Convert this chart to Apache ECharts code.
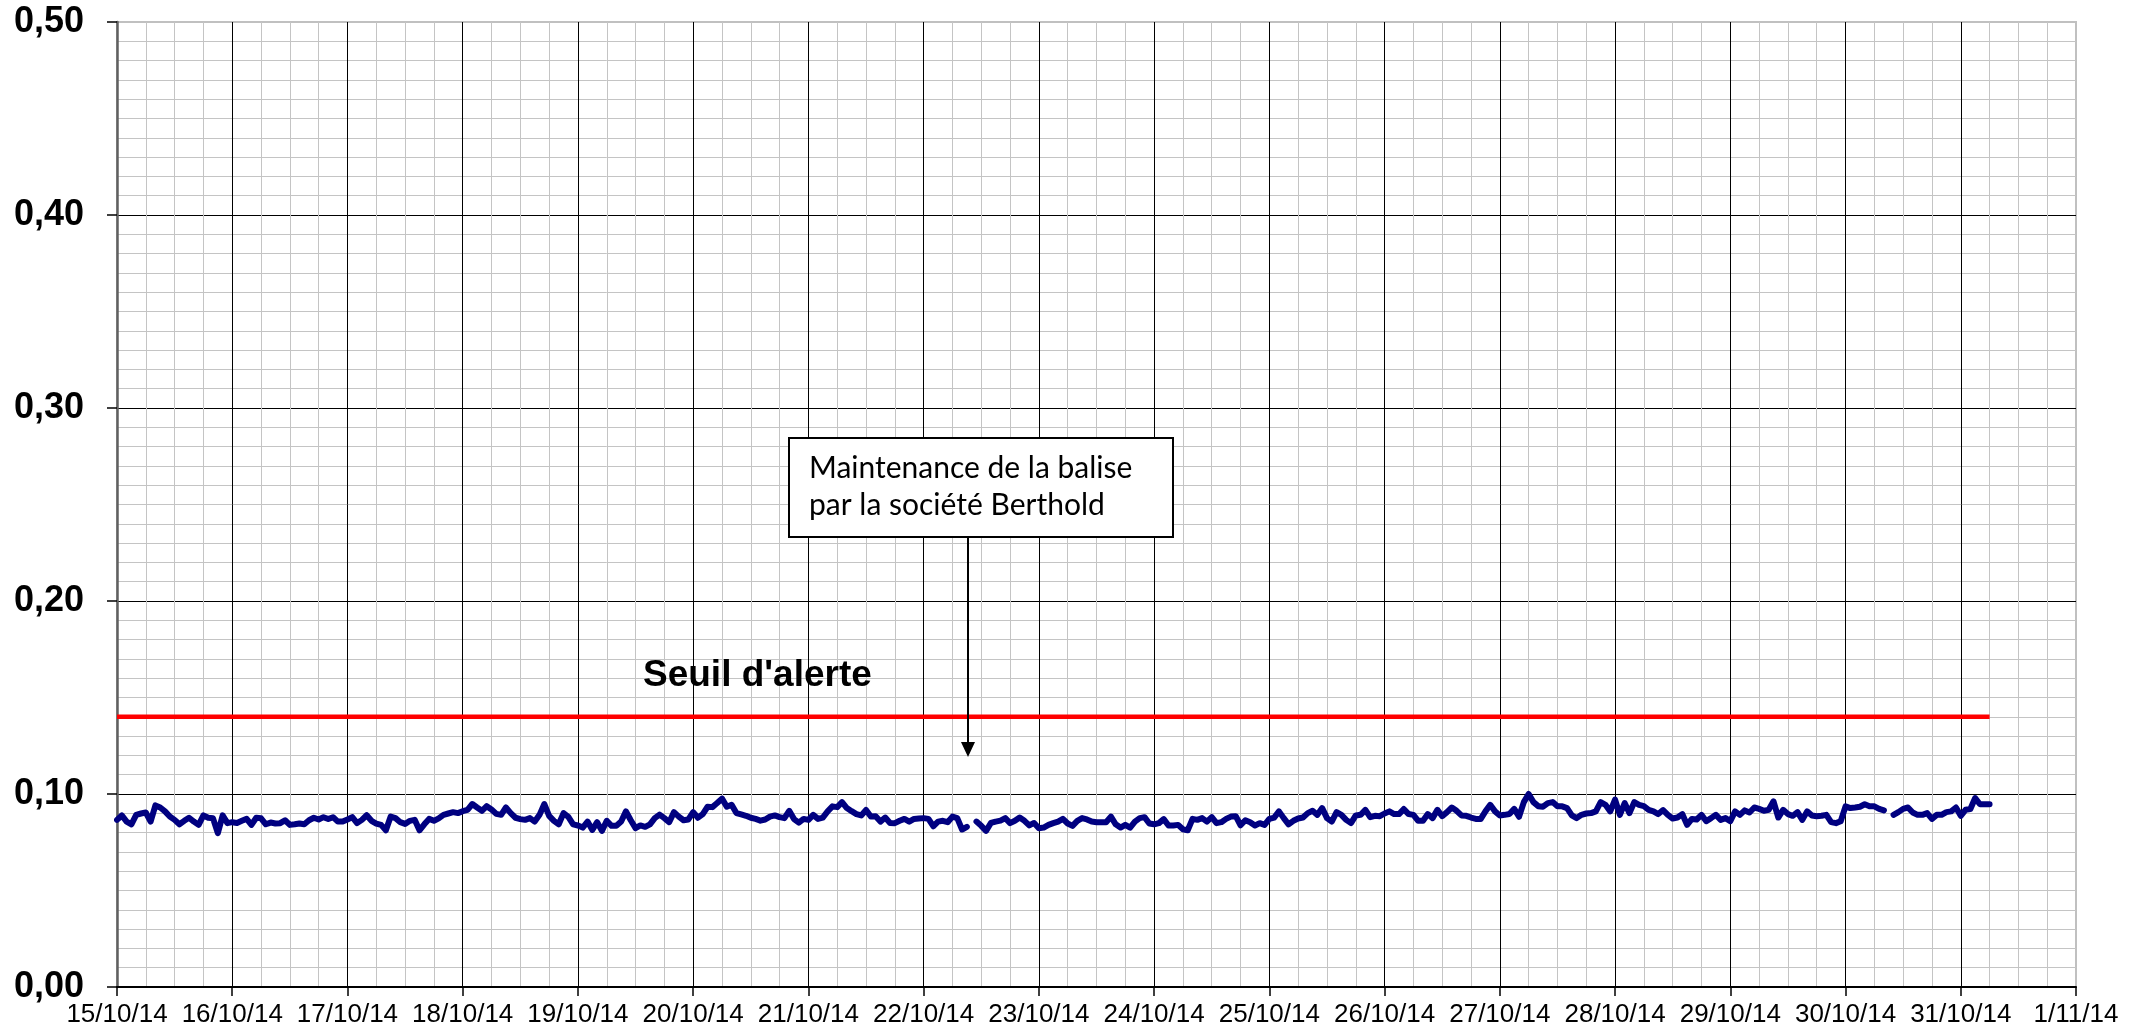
<!DOCTYPE html>
<html>
<head>
<meta charset="utf-8">
<title>Balise - octobre 2014</title>
<script src="https://cdn.jsdelivr.net/npm/echarts@6/dist/echarts.min.js"></script>
<style>
html, body { margin: 0; padding: 0; background: #fff; }
#chart { width: 2145px; height: 1033px; }
</style>
</head>
<body>
<div id="chart"></div>
<script>
// axis range
var startDate = Date.UTC(2014, 9, 15);
var endDate = Date.UTC(2014, 10, 1);
var HOUR = 3600 * 1000;
var DAY = 24 * HOUR;
var yMin = 0, yMax = 0.5, yStep = 0.1;

// hourly readings, one array per day from 00:00 (null = no measurement)
var oct15 = [0.0866, 0.0889, 0.0857, 0.0843, 0.0892, 0.0899, 0.0904, 0.0857, 0.0941, 0.0930, 0.0910, 0.0883, 0.0866, 0.0843, 0.0861, 0.0877, 0.0857, 0.0840, 0.0889, 0.0877, 0.0874, 0.0797, 0.0889, 0.0849];
var oct16 = [0.0854, 0.0850, 0.0861, 0.0871, 0.0840, 0.0877, 0.0874, 0.0843, 0.0852, 0.0847, 0.0849, 0.0864, 0.0840, 0.0843, 0.0847, 0.0843, 0.0864, 0.0877, 0.0868, 0.0880, 0.0870, 0.0880, 0.0857, 0.0857];
var oct17 = [0.0868, 0.0880, 0.0849, 0.0866, 0.0890, 0.0861, 0.0847, 0.0840, 0.0812, 0.0883, 0.0875, 0.0854, 0.0845, 0.0861, 0.0866, 0.0812, 0.0843, 0.0871, 0.0861, 0.0874, 0.0892, 0.0899, 0.0906, 0.0901];
var oct18 = [0.0911, 0.0918, 0.0948, 0.0930, 0.0913, 0.0937, 0.0920, 0.0897, 0.0892, 0.0930, 0.0901, 0.0877, 0.0870, 0.0866, 0.0875, 0.0857, 0.0892, 0.0948, 0.0887, 0.0861, 0.0843, 0.0901, 0.0882, 0.0843];
var oct19 = [0.0837, 0.0826, 0.0857, 0.0814, 0.0854, 0.0809, 0.0861, 0.0835, 0.0835, 0.0857, 0.0910, 0.0864, 0.0823, 0.0837, 0.0830, 0.0843, 0.0875, 0.0893, 0.0875, 0.0854, 0.0906, 0.0883, 0.0864, 0.0868];
var oct20 = [0.0906, 0.0877, 0.0896, 0.0934, 0.0932, 0.0953, 0.0976, 0.0934, 0.0944, 0.0901, 0.0894, 0.0887, 0.0877, 0.0871, 0.0862, 0.0868, 0.0883, 0.0889, 0.0880, 0.0875, 0.0913, 0.0870, 0.0852, 0.0871];
var oct21 = [0.0866, 0.0892, 0.0871, 0.0878, 0.0910, 0.0936, 0.0932, 0.0958, 0.0927, 0.0911, 0.0896, 0.0889, 0.0917, 0.0883, 0.0885, 0.0857, 0.0878, 0.0850, 0.0849, 0.0861, 0.0871, 0.0857, 0.0871, 0.0873];
var oct22 = [0.0875, 0.0871, 0.0833, 0.0857, 0.0861, 0.0854, 0.0883, 0.0875, 0.0816, 0.0830, null, 0.0857, 0.0835, 0.0809, 0.0850, 0.0857, 0.0862, 0.0875, 0.0849, 0.0861, 0.0878, 0.0861, 0.0837, 0.0850];
var oct23 = [0.0823, 0.0826, 0.0840, 0.0849, 0.0857, 0.0871, 0.0847, 0.0835, 0.0861, 0.0875, 0.0868, 0.0857, 0.0854, 0.0854, 0.0854, 0.0883, 0.0843, 0.0826, 0.0840, 0.0826, 0.0857, 0.0875, 0.0880, 0.0847];
var oct24 = [0.0843, 0.0849, 0.0870, 0.0837, 0.0837, 0.0840, 0.0817, 0.0812, 0.0871, 0.0866, 0.0875, 0.0857, 0.0880, 0.0849, 0.0854, 0.0871, 0.0883, 0.0885, 0.0838, 0.0864, 0.0854, 0.0837, 0.0849, 0.0840];
var oct25 = [0.0871, 0.0878, 0.0910, 0.0875, 0.0843, 0.0861, 0.0873, 0.0878, 0.0901, 0.0913, 0.0892, 0.0927, 0.0875, 0.0857, 0.0906, 0.0892, 0.0866, 0.0849, 0.0889, 0.0892, 0.0918, 0.0880, 0.0887, 0.0885];
var oct26 = [0.0899, 0.0910, 0.0896, 0.0896, 0.0922, 0.0896, 0.0892, 0.0861, 0.0861, 0.0896, 0.0875, 0.0918, 0.0885, 0.0906, 0.0930, 0.0913, 0.0889, 0.0887, 0.0878, 0.0871, 0.0870, 0.0910, 0.0944, 0.0910];
var oct27 = [0.0889, 0.0892, 0.0896, 0.0923, 0.0882, 0.0958, 0.1000, 0.0958, 0.0937, 0.0934, 0.0953, 0.0958, 0.0936, 0.0936, 0.0927, 0.0889, 0.0875, 0.0892, 0.0899, 0.0901, 0.0910, 0.0958, 0.0944, 0.0910];
var oct28 = [0.0971, 0.0892, 0.0953, 0.0901, 0.0958, 0.0944, 0.0937, 0.0918, 0.0910, 0.0896, 0.0917, 0.0892, 0.0873, 0.0878, 0.0896, 0.0840, 0.0871, 0.0868, 0.0892, 0.0859, 0.0875, 0.0892, 0.0866, 0.0875];
var oct29 = [0.0859, 0.0910, 0.0892, 0.0915, 0.0904, 0.0930, 0.0923, 0.0913, 0.0918, 0.0962, 0.0878, 0.0918, 0.0896, 0.0887, 0.0906, 0.0866, 0.0910, 0.0889, 0.0885, 0.0887, 0.0892, 0.0854, 0.0849, 0.0859];
var oct30 = [0.0936, 0.0927, 0.0930, 0.0934, 0.0947, 0.0937, 0.0936, 0.0923, 0.0915, null, 0.0892, 0.0906, 0.0923, 0.0930, 0.0904, 0.0892, 0.0892, 0.0901, 0.0871, 0.0892, 0.0892, 0.0906, 0.0910, 0.0930];
var oct31 = [0.0887, 0.0918, 0.0922, 0.0979, 0.0947, 0.0947, 0.0947];

// alert threshold
var seuilValue = 0.14;
var seuilDates = [Date.UTC(2014, 9, 15), Date.UTC(2014, 9, 31, 6)];

var hourlyValues = [].concat(oct15, oct16, oct17, oct18, oct19, oct20, oct21, oct22,
  oct23, oct24, oct25, oct26, oct27, oct28, oct29, oct30, oct31);

var mesures = hourlyValues.map(function (v, i) {
  return [startDate + i * HOUR, v === null ? '-' : v];
});
var seuil = seuilDates.map(function (d) { return [d, seuilValue]; });

function pad2(n) { return n < 10 ? '0' + n : '' + n; }
function fmtDate(v) {
  var d = new Date(v);
  return d.getUTCDate() + '/' + pad2(d.getUTCMonth() + 1) + '/' + String(d.getUTCFullYear()).slice(2);
}

var chart = echarts.init(document.getElementById('chart'));
var option = {
  animation: false,
  backgroundColor: '#fff',
  grid: {
    left: 117, right: 69, top: 22, bottom: 46,
    outerBoundsMode: 'none',
    show: true, borderColor: '#c0c0c0', borderWidth: 2, backgroundColor: '#fff'
  },
  xAxis: {
    type: 'value',
    min: startDate, max: endDate, interval: DAY,
    axisLine: { onZero: false, lineStyle: { color: '#000', width: 2 } },
    axisTick: { show: true, length: 9, lineStyle: { color: '#000', width: 1.5 } },
    axisLabel: {
      formatter: fmtDate, color: '#000', fontFamily: 'Liberation Sans',
      fontSize: 26, margin: 15, showMinLabel: true, showMaxLabel: true
    },
    splitLine: { show: true, showMaxLine: false, lineStyle: { color: '#000', width: 1 } },
    minorTick: { show: false, splitNumber: 4 },
    minorSplitLine: { show: true, lineStyle: { color: '#c4c4c4', width: 1 } }
  },
  yAxis: {
    type: 'value',
    min: yMin, max: yMax, interval: yStep,
    axisLine: { show: true, onZero: false, lineStyle: { color: '#606060', width: 2.5 } },
    axisTick: { show: true, length: 10, lineStyle: { color: '#000', width: 1.5 } },
    axisLabel: {
      formatter: function (v) { return v.toFixed(2).replace('.', ','); },
      color: '#000', fontFamily: 'Liberation Sans', fontWeight: 'bold',
      fontSize: 36, margin: 33
    },
    splitLine: { show: true, showMaxLine: false, lineStyle: { color: '#000', width: 1 } },
    minorTick: { show: false, splitNumber: 10 },
    minorSplitLine: { show: true, lineStyle: { color: '#c4c4c4', width: 1 } }
  },
  series: [
    {
      name: "Seuil d'alerte",
      type: 'line',
      data: seuil,
      symbol: 'none',
      silent: true,
      lineStyle: { color: '#ff0000', width: 4.5 },
      z: 2
    },
    {
      name: 'Mesures',
      type: 'line',
      data: mesures,
      symbol: 'none',
      silent: true,
      connectNulls: false,
      lineStyle: { color: '#000080', width: 6, join: 'round', cap: 'round' },
      z: 3
    }
  ],
  graphic: [
    {
      type: 'text', z: 10,
      style: {
        x: 643, y: 676, text: "Seuil d'alerte",
        fontFamily: 'Liberation Sans', fontWeight: 'bold', fontSize: 37, fill: '#000',
        textAlign: 'left', textVerticalAlign: 'middle'
      }
    },
    {
      type: 'rect', z: 10,
      shape: { x: 789, y: 438, width: 384, height: 99 },
      style: { fill: '#fff', stroke: '#000', lineWidth: 2 }
    },
    {
      type: 'text', z: 11,
      style: {
        x: 809, y: 487, text: 'Maintenance de la balise\npar la société Berthold',
        fontFamily: 'Lato', fontSize: 30, lineHeight: 37, fill: '#000',
        textAlign: 'left', textVerticalAlign: 'middle'
      }
    },
    {
      type: 'line', z: 10,
      shape: { x1: 968, y1: 537, x2: 968, y2: 745 },
      style: { stroke: '#000', lineWidth: 2 }
    },
    {
      type: 'polygon', z: 10,
      shape: { points: [[961, 742], [975, 742], [968, 757]] },
      style: { fill: '#000' }
    }
  ]
};
chart.setOption(option);
</script>
</body>
</html>
